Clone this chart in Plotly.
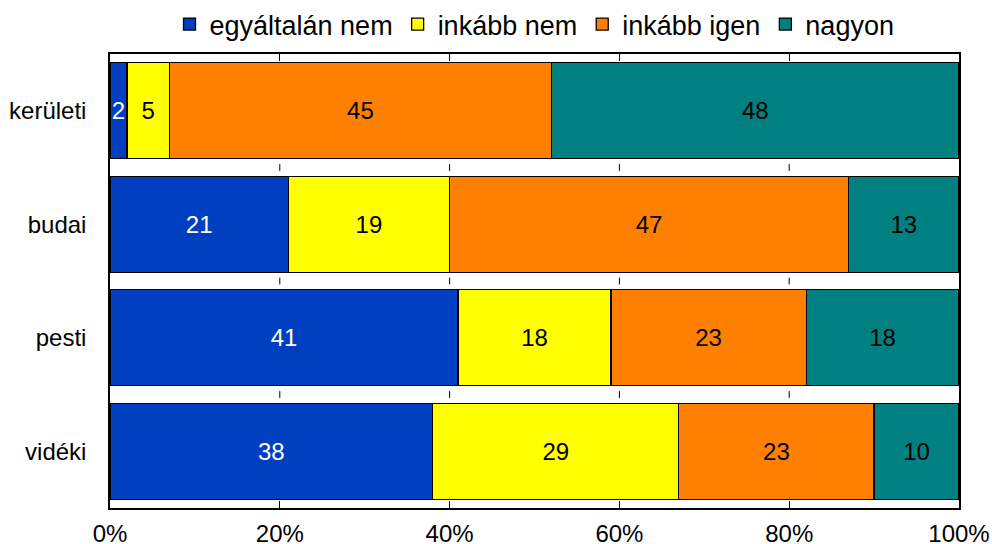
import plotly.graph_objects as go

categories = ["kerületi", "budai", "pesti", "vidéki"]
series_names = ["egyáltalán nem", "inkább nem", "inkább igen", "nagyon"]
egyaltalan_nem = [2, 21, 41, 38]
inkabb_nem = [5, 19, 18, 29]
inkabb_igen = [45, 47, 23, 23]
nagyon = [48, 13, 18, 10]
x_ticks = [0, 20, 40, 60, 80, 100]

series_values = [egyaltalan_nem, inkabb_nem, inkabb_igen, nagyon]
colors = ["#0040C0", "#FFFF00", "#FF8000", "#008080"]
text_colors = ["white", "black", "black", "black"]

FONT = "Liberation Sans, Arial, sans-serif"

fig = go.Figure()
for name, vals, col, tc in zip(series_names, series_values, colors, text_colors):
    fig.add_trace(go.Bar(
        name=name, y=categories, x=vals, orientation="h",
        marker=dict(color=col, line=dict(color="black", width=1.3)),
        text=[str(v) for v in vals], textposition="inside",
        insidetextanchor="middle", constraintext="none",
        textfont=dict(color=tc, size=24, family=FONT),
        hoverinfo="skip",
    ))

# short tick marks in the gaps between bars (decorative, in data coordinates)
shapes = []
for xv in x_ticks[1:-1]:
    for g in range(len(categories) - 1):
        shapes.append(dict(type="line", xref="x", yref="y",
                           x0=xv, x1=xv, y0=g + 0.47, y1=g + 0.53,
                           line=dict(color="black", width=1), layer="below"))

fig.update_layout(
    barmode="stack",
    bargap=0.155,
    width=992, height=544,
    margin=dict(l=110, r=33, t=54, b=36, autoexpand=False),
    paper_bgcolor="white", plot_bgcolor="white",
    font=dict(family=FONT, size=24, color="black"),
    showlegend=True,
    legend=dict(orientation="h", x=0.5, xanchor="center", xref="paper",
                y=1.0, yanchor="top", yref="container",
                bgcolor="rgba(0,0,0,0)",
                font=dict(size=27, family=FONT), traceorder="normal",
                itemwidth=30, tracegroupgap=0),
    shapes=shapes,
)
fig.update_xaxes(
    range=[0, 100], tickvals=x_ticks, ticktext=[f"{v}%" for v in x_ticks],
    showgrid=False, zeroline=False, automargin=False,
    showline=True, linecolor="black", linewidth=1.5, mirror="ticks",
    ticks="inside", ticklen=7, tickcolor="black", tickwidth=1,
    tickfont=dict(size=24), ticklabelstandoff=3,
)
fig.update_yaxes(
    categoryorder="array", categoryarray=categories, autorange="reversed",
    showgrid=False, zeroline=False, automargin=False,
    showline=True, linecolor="black", linewidth=1.5, mirror=True,
    ticks="", tickfont=dict(size=24), ticklabelstandoff=17,
)

fig.write_html(
    "out.html",
    config={"displayModeBar": False},
    post_script="document.body.style.margin='0';document.body.style.padding='0';",
)
